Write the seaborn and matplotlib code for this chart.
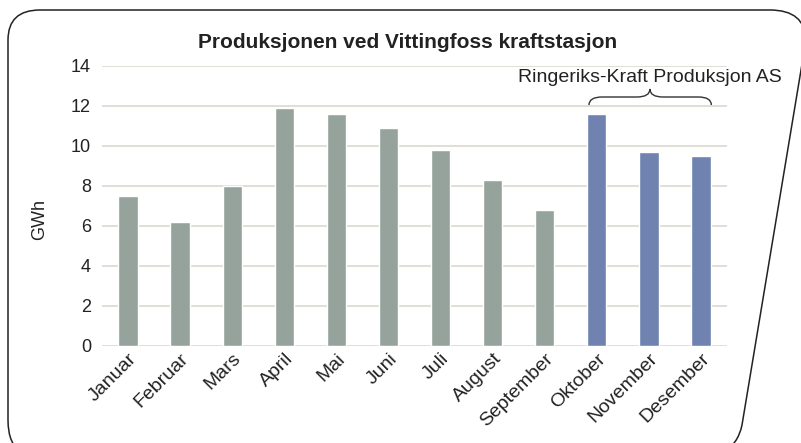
import matplotlib
matplotlib.use("Agg")
import matplotlib.pyplot as plt
from matplotlib.path import Path
from matplotlib.patches import PathPatch
import seaborn as sns
import pandas as pd

# Monthly production (GWh)
months = ["Januar", "Februar", "Mars", "April", "Mai", "Juni", "Juli",
          "August", "September", "Oktober", "November", "Desember"]
gwh = [7.5, 6.2, 8.0, 11.9, 11.6, 10.9, 9.8, 8.3, 6.8, 11.6, 9.7, 9.5]
owner = ["old"] * 9 + ["rk"] * 3
colors = {"old": "#95a39c", "rk": "#6f82b0"}

df = pd.DataFrame({"month": months, "gwh": gwh, "owner": owner})

sns.set_theme(style="white")
plt.rcParams["font.family"] = ["Liberation Sans", "DejaVu Sans"]

fig = plt.figure(figsize=(8.01, 4.43), dpi=100)
ax = fig.add_axes([102 / 801, 1 - 346 / 443, 625 / 801, 280 / 443])

sns.barplot(data=df, x="month", y="gwh", hue="owner", palette=colors,
            dodge=False, width=0.37, legend=False, ax=ax, saturation=1)

ax.set_ylim(0, 14)
ax.set_xlim(-0.5, 11.5)
ax.set_yticks(range(0, 15, 2))
ax.yaxis.grid(True, color="#dad9d0", linewidth=1.2)
ax.set_axisbelow(True)
for s in ax.spines.values():
    s.set_visible(False)
ax.tick_params(axis="both", length=0, colors="#222222")
ax.tick_params(axis="y", pad=8, labelsize=13)
ax.tick_params(axis="x", pad=3, labelsize=14)
ax.set_xlabel("")
ax.set_ylabel("")
plt.setp(ax.get_xticklabels(), rotation=45, ha="right", rotation_mode="anchor")

fig.text(40 / 801, 1 - 220 / 443, "GWh", rotation=90, ha="center", va="center",
         fontsize=13, color="#222222")
fig.text(408 / 801, 1 - 42 / 443, "Produksjonen ved Vittingfoss kraftstasjon",
         ha="center", va="center", fontsize=15, fontweight="bold", color="#222222")

# brace over the last three months
x0, x1, xm = 8.85, 11.2, 10.02
y0, y1, y2 = 12.05, 12.45, 12.85
r = 0.25
bv = [(x0, y0), (x0, y1), (x0 + r, y1), (xm - r, y1), (xm, y1), (xm, y2),
      (xm, y1), (xm + r, y1), (x1 - r, y1), (x1, y1), (x1, y0)]
bc = [Path.MOVETO, Path.CURVE3, Path.CURVE3, Path.LINETO, Path.CURVE3, Path.CURVE3,
      Path.CURVE3, Path.CURVE3, Path.LINETO, Path.CURVE3, Path.CURVE3]
ax.add_patch(PathPatch(Path(bv, bc), fill=False, lw=1, color="#333333", clip_on=False))
ax.text(xm, 13.45, "Ringeriks-Kraft Produksjon AS", ha="center", va="center",
        fontsize=14, color="#222222")

# rounded frame around the chart
def fp(x, y):
    return (x / 801, 1 - y / 443)

fv = [fp(22, 452), fp(8, 445), fp(8, 420), fp(8, 40), fp(8, 10), fp(40, 10),
      fp(770, 10), fp(805, 10), fp(806, 40), fp(742, 425), fp(738, 445), fp(722, 452)]
fc = [Path.MOVETO, Path.CURVE3, Path.CURVE3, Path.LINETO, Path.CURVE3, Path.CURVE3,
      Path.LINETO, Path.CURVE3, Path.CURVE3, Path.LINETO, Path.CURVE3, Path.CURVE3]
fig.patches.append(PathPatch(Path(fv, fc), fill=False, lw=1.1, color="#222222",
                             transform=fig.transFigure))

fig.savefig("out.png", dpi=100)
